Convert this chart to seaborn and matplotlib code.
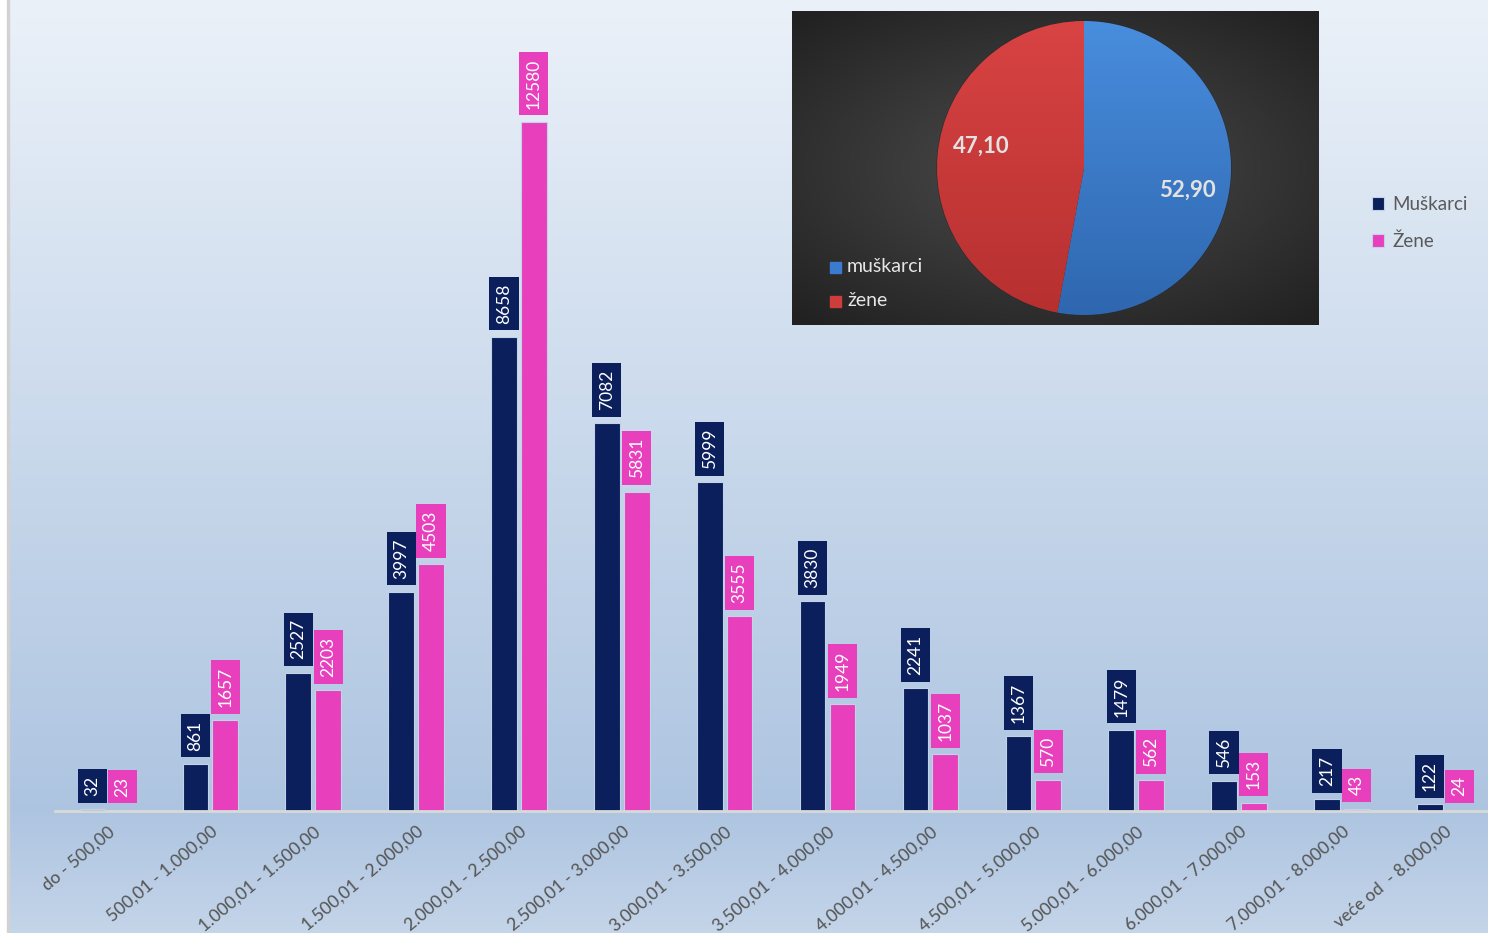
import numpy as np
import pandas as pd
import seaborn as sns
import matplotlib.pyplot as plt
from matplotlib.patches import Rectangle

# Data
categories = ['do - 500,00', '500,01 - 1.000,00', '1.000,01 - 1.500,00',
              '1.500,01 - 2.000,00', '2.000,01 - 2.500,00', '2.500,01 - 3.000,00',
              '3.000,01 - 3.500,00', '3.500,01 - 4.000,00', '4.000,01 - 4.500,00',
              '4.500,01 - 5.000,00', '5.000,01 - 6.000,00', '6.000,01 - 7.000,00',
              '7.000,01 - 8.000,00', 'veće od  - 8.000,00']
muskarci = [32, 861, 2527, 3997, 8658, 7082, 5999, 3830, 2241, 1367, 1479, 546, 217, 122]
zene = [23, 1657, 2203, 4503, 12580, 5831, 3555, 1949, 1037, 570, 562, 153, 43, 24]
series_names = ['Muškarci', 'Žene']

pie_labels = ['muškarci', 'žene']
pie_values = [52.90, 47.10]
pie_texts = ['52,90', '47,10']

NAVY = '#0a1f5c'
PINK = '#e83fbd'

df = pd.DataFrame({
    'kategorija': categories * 2,
    'broj': muskarci + zene,
    'spol': [series_names[0]] * len(categories) + [series_names[1]] * len(categories),
})

sns.set_theme(style='white')
plt.rcParams['font.family'] = ['Lato', 'DejaVu Sans']

W, H = 1488, 933
fig = plt.figure(figsize=(W / 100, H / 100), dpi=100)

# background gradient
bg = fig.add_axes([0, 0, 1, 1], zorder=-10)
t = np.linspace(0, 1, 256)
top = np.array([0.92, 0.945, 0.975])
mid = np.array([0.68, 0.77, 0.88])
bot = np.array([0.77, 0.835, 0.915])
split = 811 / H
cols = np.where(t[:, None] < split,
                top + (mid - top) * (t[:, None] / split),
                mid + (bot - mid) * ((t[:, None] - split) / (1 - split)))
bg.imshow(cols[:, None, :], aspect='auto', extent=[0, 1, 0, 1], origin='upper')
bg.add_patch(Rectangle((0, 0), 7 / W, 1, color='white', transform=bg.transAxes))
bg.add_patch(Rectangle((7 / W, 0), 2 / W, 1, color='#d2d2d2', transform=bg.transAxes))
bg.set_xlim(0, 1)
bg.set_ylim(0, 1)
bg.axis('off')

# main bar chart
ax_bottom = (H - 811) / H
ax_top = 30 / H
ax = fig.add_axes([55 / W, ax_bottom, (W - 55) / W, 1 - ax_bottom - ax_top])
ax.patch.set_alpha(0)
sns.barplot(data=df, x='kategorija', y='broj', hue='spol',
            palette=[NAVY, PINK], saturation=1, width=0.58, gap=0.14, ax=ax,
            edgecolor='#c4d2e8', linewidth=0.8, legend=True)

px_per_unit = (811 - 122) / 12580
ax.set_ylim(0, (811 - 30) / px_per_unit)
ax.set_xlim(-0.51, (W - 107) / 102.9)

for container, color in zip(ax.containers, [NAVY, PINK]):
    for bar in container:
        val = int(round(bar.get_height()))
        ax.annotate(str(val), (bar.get_x() + bar.get_width() / 2, bar.get_height()),
                    xytext=(0, 9.5), textcoords='offset points',
                    rotation=90, ha='center', va='bottom', color='white',
                    fontsize=12.5,
                    bbox=dict(boxstyle='square,pad=0.38', fc=color, ec='none'))

ax.set_xlabel('')
ax.set_ylabel('')
ax.set_yticks([])
ax.tick_params(axis='x', length=0, pad=9)
plt.setp(ax.get_xticklabels(), rotation=40, ha='right', rotation_mode='anchor',
         color='#595959', fontsize=12.5, fontweight='medium')
for s in ['top', 'right', 'left']:
    ax.spines[s].set_visible(False)
ax.spines['bottom'].set_color('#d9d9d9')
ax.spines['bottom'].set_linewidth(2)

leg = ax.legend(loc='upper left', bbox_to_anchor=((1372 - 55) / (W - 55), (811 - 196) / 781),
                frameon=False, fontsize=13.5, handlelength=0.65, handleheight=0.65,
                handletextpad=0.45, labelspacing=1.05, borderaxespad=0, borderpad=0)
for txt in leg.get_texts():
    txt.set_color('#595959')

# inset pie
ins_bg = fig.add_axes([792 / W, 1 - 325 / H, (1319 - 792) / W, (325 - 11) / H])
yy, xx = np.mgrid[-1:1:200j, -1:1:300j]
r = np.sqrt((xx * 0.9) ** 2 + (yy * 1.0) ** 2)
shade = 0.30 - 0.13 * np.clip(r, 0, 1.3)
ins_bg.imshow(np.dstack([shade, shade, shade]), aspect='auto', extent=[0, 1, 0, 1])
ins_bg.set_xlim(0, 1)
ins_bg.set_ylim(0, 1)
ins_bg.axis('off')

R = 147
pie_ax = fig.add_axes([(1084 - R) / W, 1 - (168 + R) / H, 2 * R / W, 2 * R / H])
wedges, _ = pie_ax.pie(pie_values, colors=['#3a7bd0', '#cf3c3c'], startangle=90,
                       counterclock=False,
                       wedgeprops=dict(edgecolor='#2a2a2a', linewidth=0.8))
pie_ax.set_aspect('auto')
grad = np.linspace(0, 1, 100)[:, None]
for w, c1, c2 in zip(wedges, ['#4a8fe0', '#da4444'], ['#2d65ad', '#b52f2f']):
    c1 = np.array(plt.matplotlib.colors.to_rgb(c1))
    c2 = np.array(plt.matplotlib.colors.to_rgb(c2))
    img = c1 + (c2 - c1) * grad[:, :, None]
    im = pie_ax.imshow(img, extent=[-1.1, 1.1, -1.1, 1.1], aspect='auto', zorder=1)
    im.set_clip_path(w)
pie_ax.set_xlim(-1, 1)
pie_ax.set_ylim(-1, 1)
pie_ax.axis('off')

fig.text(1187 / W, 1 - 190 / H, pie_texts[0], color='#e2e2e2', fontsize=16,
         fontweight='bold', ha='center', va='center')
fig.text(981 / W, 1 - 146 / H, pie_texts[1], color='#e2e2e2', fontsize=16,
         fontweight='bold', ha='center', va='center')

for i, (lab, col) in enumerate(zip(pie_labels, ['#3a7bd0', '#cf3c3c'])):
    yc = 267 + 34 * i
    fig.patches.append(Rectangle((830 / W, 1 - (yc + 6) / H), 11 / W, 11 / H,
                                 color=col, transform=fig.transFigure, figure=fig))
    fig.text(847 / W, 1 - yc / H, lab, color='#e6e6e6', fontsize=14,
             ha='left', va='center')

fig.savefig('out.png', dpi=100)
